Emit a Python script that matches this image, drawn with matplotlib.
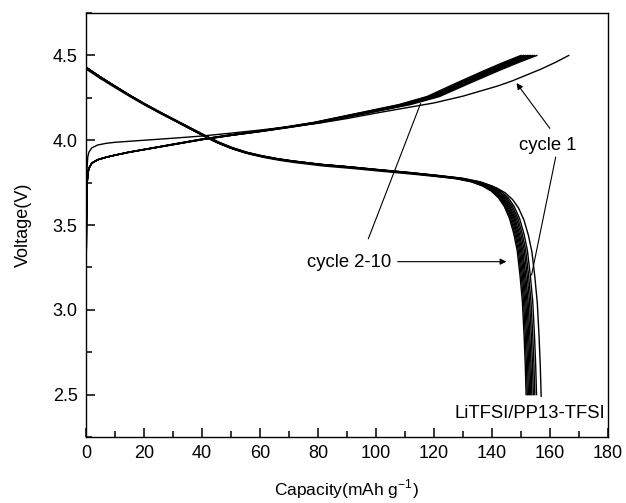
import numpy as np
import matplotlib.pyplot as plt
from matplotlib.ticker import MultipleLocator

plt.rcParams['font.family'] = ['Liberation Sans', 'DejaVu Sans']

# charge curve shape of cycles 2-10 (end capacity 153)
chg_q = np.array([0, 0.15, 0.3, 0.6, 1, 2, 4, 7, 10, 15, 20, 30, 40, 50, 60,
                  70, 80, 90, 100, 110, 120, 130, 140, 147, 153])
chg_v = np.array([3.0, 3.5, 3.72, 3.8, 3.835, 3.865, 3.885, 3.9, 3.912, 3.93,
                  3.945, 3.975, 4.005, 4.03, 4.053, 4.078, 4.105, 4.14, 4.175,
                  4.21, 4.258, 4.335, 4.41, 4.46, 4.5])

# cycle 1 charge
chg1_q = [0, 0.15, 0.3, 0.6, 1, 2, 4, 7, 10, 20, 30, 40, 50, 60, 70, 80, 90,
          100, 110, 120, 130, 136, 142, 147, 152, 157, 162, 166.5]
chg1_v = [3.0, 3.6, 3.82, 3.9, 3.93, 3.955, 3.972, 3.982, 3.988, 4.0, 4.012,
          4.025, 4.042, 4.06, 4.08, 4.10, 4.128, 4.16, 4.19, 4.22, 4.26, 4.29,
          4.32, 4.35, 4.385, 4.42, 4.46, 4.5]

# discharge curve shape (end capacity 153.1)
dis_q = np.array([0, 5, 10, 15, 20, 25, 30, 35, 40, 45, 50, 55, 60, 65, 70, 80,
                  90, 100, 110, 120, 128, 134, 138, 141, 143.5, 145.5, 147.3,
                  148.8, 150, 151, 151.8, 152.4, 152.8, 153.1])
dis_v = np.array([4.43, 4.372, 4.318, 4.265, 4.215, 4.168, 4.123, 4.078, 4.033,
                  3.99, 3.955, 3.928, 3.908, 3.892, 3.879, 3.858, 3.843, 3.826,
                  3.81, 3.792, 3.776, 3.755, 3.73, 3.70, 3.66, 3.61, 3.54, 3.45,
                  3.35, 3.2, 3.05, 2.85, 2.68, 2.5])

# end capacities per cycle
charge_cap = [150.0, 150.8, 151.5, 152.2, 152.8, 153.4, 154.0, 154.7, 155.5]
discharge_cap = [157.0, 151.8, 152.2, 152.6, 153.0, 153.4, 153.8, 154.3, 154.8, 155.4]

fig = plt.figure(figsize=(6.26, 5.03), dpi=100)
ax = fig.add_axes([0.1374, 0.1312, 0.8336, 0.8428])

lw = 1.0
ax.plot(chg1_q, chg1_v, color='black', lw=lw)
for c in charge_cap:
    ax.plot(chg_q * c / chg_q[-1], chg_v, color='black', lw=lw)
for i, c in enumerate(discharge_cap):
    off = -0.01 if i == 0 else 0.0
    ax.plot(dis_q * c / dis_q[-1], dis_v + off, color='black', lw=lw)

ax.set_xlim(0, 180)
ax.set_ylim(2.25, 4.75)
ax.xaxis.set_major_locator(MultipleLocator(20))
ax.xaxis.set_minor_locator(MultipleLocator(10))
ax.yaxis.set_major_locator(MultipleLocator(0.5))
ax.yaxis.set_minor_locator(MultipleLocator(0.25))
ax.tick_params(which='both', direction='in', top=False, right=False,
               labelsize=13, width=1.1, pad=6)
ax.tick_params(which='major', length=6.5)
ax.tick_params(which='minor', length=4)
for s in ax.spines.values():
    s.set_linewidth(1.0)

ax.set_xlabel('Capacity(mAh g$^{\\mathregular{-1}}$)', fontsize=12.5, labelpad=11)
ax.set_ylabel('Voltage(V)', fontsize=13, labelpad=15)

arr = dict(arrowstyle='-|>', lw=0.8, color='black', mutation_scale=9,
           shrinkA=0, shrinkB=0)
ax.text(159.4, 3.97, 'cycle 1', fontsize=13.3, ha='center', va='center')
ax.annotate('', xy=(148.5, 4.337), xytext=(160, 4.07), arrowprops=arr)
ax.plot([162, 153.7], [3.9, 3.206], color='black', lw=0.8)

ax.text(90.7, 3.28, 'cycle 2-10', fontsize=13.3, ha='center', va='center')
ax.annotate('', xy=(145, 3.284), xytext=(107.5, 3.284), arrowprops=arr)
ax.plot([97.4, 115.4], [3.42, 4.216], color='black', lw=0.8)

ax.text(179, 2.388, 'LiTFSI/PP13-TFSI', fontsize=13.3, ha='right', va='center')

fig.savefig('out.png', dpi=100)
